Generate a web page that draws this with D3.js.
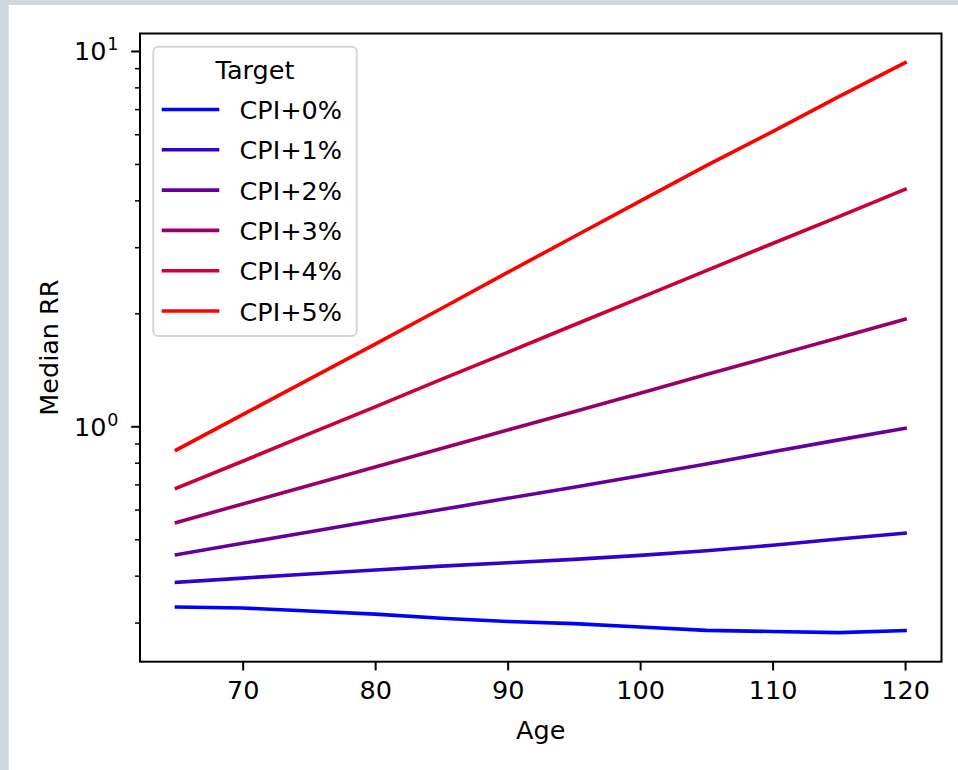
<!DOCTYPE html>
<html>
<head>
<meta charset="utf-8">
<script src="https://cdn.jsdelivr.net/npm/d3@7"></script>
<style>
  html, body { margin: 0; padding: 0; background: #ffffff; }
  svg { display: block; }
</style>
</head>
<body>
<script>
// ---- Data ----
const ages = [65, 70, 75, 80, 85, 90, 95, 100, 105, 110, 115, 120];
const seriesNames = ["CPI+0%", "CPI+1%", "CPI+2%", "CPI+3%", "CPI+4%", "CPI+5%"];
const cpi0 = [0.330, 0.328, 0.322, 0.316, 0.308, 0.302, 0.298, 0.292, 0.286, 0.284, 0.282, 0.2855];
const cpi1 = [0.384, 0.394, 0.404, 0.414, 0.424, 0.433, 0.442, 0.453, 0.466, 0.482, 0.501, 0.519];
const cpi2 = [0.455, 0.488, 0.523, 0.561, 0.600, 0.643, 0.688, 0.738, 0.794, 0.855, 0.920, 0.988];
const cpi3 = [0.554, 0.621, 0.695, 0.779, 0.873, 0.977, 1.094, 1.225, 1.374, 1.538, 1.722, 1.929];
const cpi4 = [0.684, 0.807, 0.955, 1.127, 1.333, 1.574, 1.862, 2.198, 2.600, 3.070, 3.620, 4.280];
const cpi5 = [0.865, 1.074, 1.334, 1.656, 2.060, 2.570, 3.200, 3.980, 4.950, 6.100, 7.560, 9.310];
const seriesValues = [cpi0, cpi1, cpi2, cpi3, cpi4, cpi5];
const seriesColors = ["#0000ff", "#3300cc", "#660099", "#990066", "#cc0033", "#ff0000"];
const xTicks = [70, 80, 90, 100, 110, 120];
const yMajorTicks = [1, 10];
const legendTitle = "Target";
const xLabel = "Age";
const yLabel = "Median RR";

// ---- Layout ----
const W = 958, H = 770;
const mL = 140, mR = 941.5, mT = 33.5, mB = 661.7;
const FONT = "'DejaVu Sans', sans-serif";
const FS = 25.5;

const svg = d3.select("body").append("svg").attr("width", W).attr("height", H);

// page frame (grey band on top and left)
svg.append("rect").attr("x", 0).attr("y", 0).attr("width", W).attr("height", H).attr("fill", "#ffffff");
svg.append("rect").attr("x", 0).attr("y", 0).attr("width", W).attr("height", 5).attr("fill", "#cfd8de");
svg.append("rect").attr("x", 0).attr("y", 0).attr("width", 8.7).attr("height", H).attr("fill", "#cfd8de");

const x = d3.scaleLinear().domain([62.25, 122.75]).range([mL, mR]);
const y = d3.scaleLog().domain([Math.pow(10, -0.6272), Math.pow(10, 1.0466)]).range([mB, mT]);

const g = svg.append("g");

// clip for lines
svg.append("clipPath").attr("id", "clip").append("rect")
  .attr("x", mL).attr("y", mT).attr("width", mR - mL).attr("height", mB - mT);

// lines
const line = d3.line().x((d, i) => x(ages[i])).y(d => y(d));
seriesValues.forEach((vals, k) => {
  g.append("path")
    .attr("d", line(vals))
    .attr("fill", "none")
    .attr("stroke", seriesColors[k])
    .attr("stroke-width", 3.6)
    .attr("stroke-linejoin", "round")
    .attr("stroke-linecap", "square")
    .attr("clip-path", "url(#clip)");
});

// x axis
const xAxis = d3.axisBottom(x).tickValues(xTicks).tickSize(8.75).tickPadding(8.75).tickFormat(d3.format("d"));
const gx = svg.append("g").attr("transform", `translate(0,${mB})`).call(xAxis);
gx.select(".domain").remove();
gx.selectAll(".tick line").attr("stroke", "#000").attr("stroke-width", 2);
gx.selectAll(".tick text").attr("font-family", FONT).attr("font-size", FS).attr("fill", "#000")
  .attr("dy", null).attr("y", 37);

// y axis: minor ticks
const minor = [];
[0.1, 1].forEach(dec => { for (let m = 2; m <= 9; m++) minor.push(dec * m); });
const minorIn = minor.filter(v => v >= y.domain()[0] && v <= y.domain()[1]);
const yMinor = d3.axisLeft(y).tickValues(minorIn).tickSize(5).tickFormat("");
const gym = svg.append("g").attr("transform", `translate(${mL},0)`).call(yMinor);
gym.select(".domain").remove();
gym.selectAll(".tick line").attr("stroke", "#000").attr("stroke-width", 1.5);

// y axis: major ticks
const yMajor = d3.axisLeft(y).tickValues(yMajorTicks).tickSize(8.75).tickFormat("");
const gy = svg.append("g").attr("transform", `translate(${mL},0)`).call(yMajor);
gy.select(".domain").remove();
gy.selectAll(".tick line").attr("stroke", "#000").attr("stroke-width", 2);
gy.selectAll(".tick").each(function(d) {
  const e = Math.round(Math.log10(d));
  const t = d3.select(this).append("text")
    .attr("x", -21.5).attr("y", 0).attr("dy", 9)
    .attr("text-anchor", "end")
    .attr("font-family", FONT).attr("font-size", FS).attr("fill", "#000");
  t.append("tspan").text("10");
  t.append("tspan").attr("font-size", 17.5).attr("dy", -10).attr("dx", 1).text(String(e));
});

// spines
svg.append("rect").attr("x", mL).attr("y", mT).attr("width", mR - mL).attr("height", mB - mT)
  .attr("fill", "none").attr("stroke", "#000").attr("stroke-width", 2);

// axis labels
svg.append("text").attr("x", (mL + mR) / 2).attr("y", 739)
  .attr("text-anchor", "middle").attr("font-family", FONT).attr("font-size", FS).attr("fill", "#000").text(xLabel);
svg.append("text").attr("transform", `translate(58,${(mT + mB) / 2}) rotate(-90)`)
  .attr("text-anchor", "middle").attr("font-family", FONT).attr("font-size", FS).attr("fill", "#000").text(yLabel);

// legend
const lg = svg.append("g");
lg.append("rect").attr("x", 153.3).attr("y", 46.7).attr("width", 203.4).attr("height", 289.3)
  .attr("rx", 5).attr("ry", 5)
  .attr("fill", "rgba(255,255,255,0.8)").attr("stroke", "#d6d6d6").attr("stroke-width", 2);
lg.append("text").attr("x", 255).attr("y", 78.5).attr("text-anchor", "middle")
  .attr("font-family", FONT).attr("font-size", FS).attr("fill", "#000").text(legendTitle);
const entryY = d3.scaleLinear().domain([0, 1]).range([109.5, 149.8]);
seriesNames.forEach((name, k) => {
  const yy = entryY(k);
  lg.append("line").attr("x1", 163.5).attr("x2", 217.5).attr("y1", yy).attr("y2", yy)
    .attr("stroke", seriesColors[k]).attr("stroke-width", 3.6).attr("stroke-linecap", "square");
  lg.append("text").attr("x", 239.5).attr("y", yy + 9.5)
    .attr("font-family", FONT).attr("font-size", FS).attr("fill", "#000").text(name);
});
</script>
</body>
</html>
